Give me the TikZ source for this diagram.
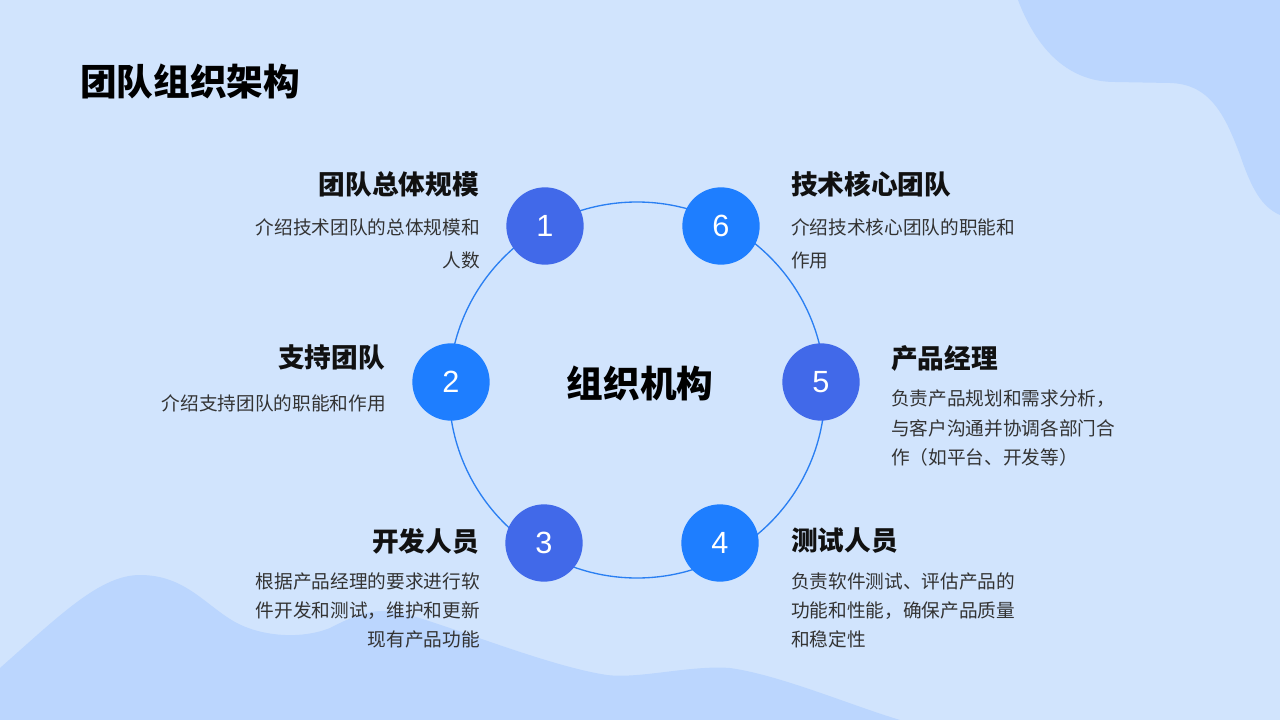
\documentclass[tikz,border=0pt]{standalone}
\usepackage{fontspec}
\setmainfont{Noto Sans CJK SC}
\newfontfamily\numfont{Liberation Sans}
\usepackage{xcolor}
\usetikzlibrary{positioning}
\definecolor{PageBlue}  {HTML}{D1E4FD}
\definecolor{BlobBlue}  {HTML}{BBD6FE}
\definecolor{RingBlue}  {HTML}{2A7FF2}
\definecolor{RoyalBlue} {HTML}{4169E9}
\definecolor{BrightBlue}{HTML}{1E7EFF}
\definecolor{HeadInk}   {HTML}{111111}
\definecolor{BodyInk}   {HTML}{333333}

\begin{document}
\begin{tikzpicture}[x=0.75pt,y=-0.75pt,
    blob/.style={fill=BlobBlue,draw=none},
    ring/.style={draw=RingBlue,line width=1pt},
    numA/.style={circle,fill=RoyalBlue,text=white,minimum size=58pt,inner sep=0pt,
      font=\numfont\fontsize{23}{23}\selectfont},
    numB/.style={numA,fill=BrightBlue},
    hd/.style={inner sep=0pt,font=\bfseries\fontsize{20}{24}\selectfont,text=HeadInk},
    desc/.style={inner sep=0pt,font=\fontsize{14}{22}\selectfont,text=BodyInk},
    loose/.style={font=\fontsize{14}{24.75}\selectfont}
  ]
    % page and background shapes
    \fill[PageBlue] (0,0) rectangle (1280,720);
    \useasboundingbox (0,0) rectangle (1280,720);
    \fill[blob] (1018,0) .. controls (1035,45) and (1065,82) .. (1115,82)
      -- (1170,83) .. controls (1210,84) and (1225,115) .. (1240,155)
      .. controls (1252,190) and (1262,207) .. (1280,215) -- (1280,0) -- cycle;
    \fill[blob] (0,668) .. controls (60,615) and (100,575) .. (140,575)
      .. controls (185,575) and (205,605) .. (235,622)
      .. controls (260,636) and (300,640) .. (330,628)
      .. controls (355,615) and (370,610) .. (390,611)
      .. controls (420,613) and (540,665) .. (607,675)
      .. controls (640,679) and (690,665) .. (730,668)
      .. controls (780,675) and (850,705) .. (900,720) -- (0,720) -- cycle;

    % title
    \node[inner sep=0pt,anchor=west,font=\bfseries\fontsize{27.5}{32}\selectfont,text=black]
      (title) at (80,82) {团队组织架构};

    % ring and centre
    \coordinate (ctr) at (637,390);
    \draw[ring] (ctr) circle[radius=141pt];
    \node[inner sep=0pt,font=\bfseries\fontsize{27.5}{32}\selectfont,text=black]
      (org) at (640,383) {组织机构};

    % numbered circles
    \node[numA] (n1) at (545,226) {1};
    \node[numB] (n6) at (721,226) {6};
    \node[numB] (n2) at (451,382) {2};
    \node[numA] (n5) at (821,382) {5};
    \node[numA] (n3) at (544,543) {3};
    \node[numB] (n4) at (720,543) {4};

    % left side
    \node[hd,anchor=east] (h1) at (479,184) {团队总体规模};
    \node[desc,loose,anchor=north east,align=right] (d1) at (480,218)
      {介绍技术团队的总体规模和\\人数};
    \node[hd,anchor=east] (h2) at (385,357) {支持团队};
    \node[desc,anchor=north east,align=right] (d2) at (386,394)
      {介绍支持团队的职能和作用};
    \node[hd,anchor=east] (h3) at (479,541) {开发人员};
    \node[desc,anchor=north east,align=right] (d3) at (480,572)
      {根据产品经理的要求进行软\\件开发和测试，维护和更新\\现有产品功能};

    % right side
    \node[hd,anchor=west] (h6) at (791,184) {技术核心团队};
    \node[desc,loose,anchor=north west,align=left] (d6) at (791,218)
      {介绍技术核心团队的职能和\\作用};
    \node[hd,anchor=west] (h5) at (891,358) {产品经理};
    \node[desc,anchor=north west,align=left] (d5) at (891,390)
      {负责产品规划和需求分析，\\与客户沟通并协调各部门合\\作（如平台、开发等）};
    \node[hd,anchor=west] (h4) at (791,541) {测试人员};
    \node[desc,anchor=north west,align=left] (d4) at (791,572)
      {负责软件测试、评估产品的\\功能和性能，确保产品质量\\和稳定性};
  \end{tikzpicture}
\end{document}
